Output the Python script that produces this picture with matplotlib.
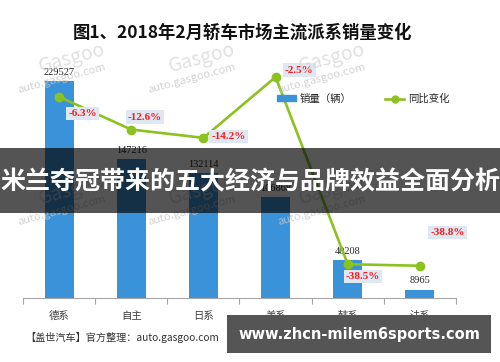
import matplotlib
matplotlib.use("Agg")
import matplotlib.pyplot as plt
from matplotlib.patches import Rectangle, Patch
from matplotlib.lines import Line2D

plt.rcParams['font.family'] = ['Noto Sans CJK SC', 'DejaVu Sans']

categories = ['德系', '自主', '日系', '美系', '韩系', '法系']
sales = [229527, 147216, 132114, 106868, 40208, 8965]
yoy = [-6.3, -12.6, -14.2, -2.5, -38.5, -38.8]
yoy_labels = ['-6.3%', '-12.6%', '-14.2%', '-2.5%', '-38.5%', '-38.8%']
title = '图1、2018年2月轿车市场主流派系销量变化'
legend_labels = ['销量（辆）', '同比变化']
source = '【盖世汽车】官方整理：auto.gasgoo.com'
banner = '米兰夺冠带来的五大经济与品牌效益全面分析'
site = 'www.zhcn-milem6sports.com'

BAR = '#3a93d8'
LINE = '#8cc21f'

fig = plt.figure(figsize=(5.0, 3.62), dpi=100)
ax = fig.add_axes([23/500, 1-298/362, 433/500, 248/362])
x = list(range(len(categories)))
ax.bar(x, sales, width=0.4, color=BAR, zorder=2)
ax.set_xlim(-0.5, 5.5)
ax.set_ylim(0, 262900)
for s in ['top', 'right', 'left']:
    ax.spines[s].set_visible(False)
ax.spines['bottom'].set_color('#a6a6a6')
ax.set_yticks([])
ax.set_xticks([i - 0.5 for i in range(len(categories) + 1)])
ax.set_xticklabels([])
ax.tick_params(axis='x', length=4, color='#a6a6a6')
for i, c in enumerate(categories):
    ax.annotate(c, (i, 0), xytext=(0, -13), textcoords='offset points',
                ha='center', va='center', fontsize=7.5, color='#404040')
for i, v in enumerate(sales):
    ax.annotate(str(v), (i, v), xytext=(0, 3), textcoords='offset points',
                ha='center', va='bottom', fontsize=7.5, color='#262626',
                family='Liberation Serif')

ax2 = ax.twinx()
ax2.set_ylim(-45, 2.7)
ax2.axis('off')
ax2.plot(x, yoy, color=LINE, lw=1.9, marker='o', ms=6, zorder=3)
offsets = [(17, -12), (10, 9), (18, 1), (17, 5), (11, -9), (20, 24)]
for i, (v, lab) in enumerate(zip(yoy, yoy_labels)):
    ax2.annotate(lab, (i, v), xytext=offsets[i], textcoords='offset points',
                 ha='center', va='center', fontsize=8, color='#ff1a1a',
                 fontweight='bold', family='Liberation Serif',
                 bbox=dict(boxstyle='square,pad=0.2', fc='#dde8f3', ec='none'))

handles = [Patch(color=BAR), Line2D([0], [0], color=LINE, lw=1.9, marker='o', ms=5)]
fig.legend(handles, legend_labels, loc='center left',
           bbox_to_anchor=(277/500, 1-99/362), ncol=2, frameon=False,
           fontsize=7.5, borderpad=0, borderaxespad=0, handlelength=1.8,
           handleheight=0.5, handletextpad=0.4, columnspacing=3.2,
           labelcolor='#262626')

fig.text(242/500, 1-33/362, title, ha='center', va='center', fontsize=12.5,
         fontweight='bold', color='#111111')

# watermarks
for (wx, wy) in [(62/500, 1-78/362), (192/500, 1-78/362), (322/500, 1-78/362),
                 (62/500, 1-210/362), (192/500, 1-210/362), (322/500, 1-210/362)]:
    fig.text(wx, wy, 'auto.gasgoo.com', rotation=15, fontsize=8,
             color='#c8c8c8', ha='center', va='center', alpha=0.8, zorder=5)
    fig.text(wx + 0.02, wy + 0.055, 'Gasgoo', rotation=15, fontsize=14,
             color='#d4d4d4', ha='center', va='center', alpha=0.7,
             style='italic', zorder=5)

fig.text(25/500, 1-337/362, source, ha='left', va='center', fontsize=7.3,
         color='#333333')

# overlays
fig.patches.append(Rectangle((0, 1-213/362), 1, 65/362, transform=fig.transFigure,
                             facecolor='black', alpha=0.67, edgecolor='none', zorder=10))
fig.text(0.5, 1-182/362, banner, ha='center', va='center', fontsize=18,
         fontweight='bold', color='white', zorder=11)
fig.patches.append(Rectangle((227/500, 1-353/362), 264/500, 38/362,
                             transform=fig.transFigure, facecolor='#555555',
                             edgecolor='none', zorder=10))
fig.text(359/500, 1-334/362, site, ha='center', va='center', fontsize=10.5,
         fontweight='bold', color='white', family='DejaVu Sans', zorder=11)

fig.savefig('out.png', dpi=100)
